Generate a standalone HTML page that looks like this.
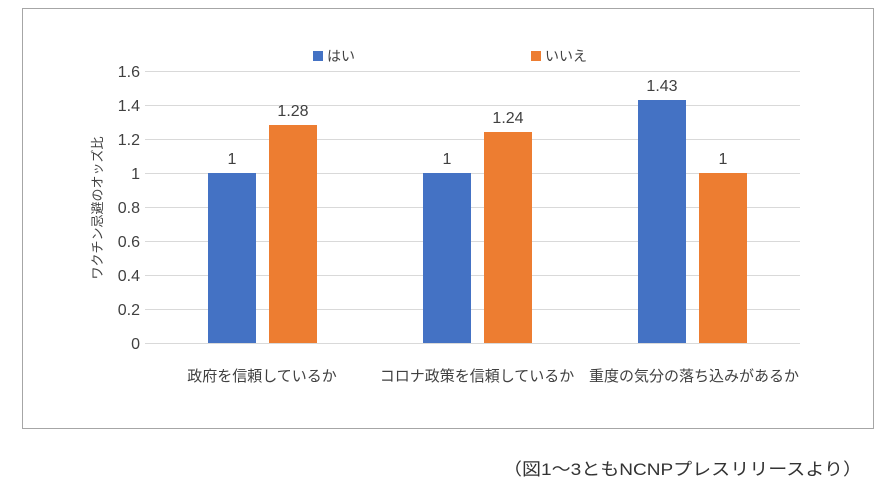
<!DOCTYPE html>
<html><head><meta charset="utf-8"><style>
html,body{margin:0;padding:0;background:#fff;}
svg{display:block;font-family:"Liberation Sans","Noto Sans CJK JP",sans-serif;}
</style></head><body>
<svg width="892" height="491" viewBox="0 0 892 491" xmlns="http://www.w3.org/2000/svg">
<rect x="22.5" y="8.5" width="851" height="420" fill="#fff" stroke="#a6a6a6" stroke-width="1"/>
<g stroke="#d9d9d9" stroke-width="1">
<line x1="145" x2="800" y1="71.5" y2="71.5"/>
<line x1="145" x2="800" y1="105.5" y2="105.5"/>
<line x1="145" x2="800" y1="139.5" y2="139.5"/>
<line x1="145" x2="800" y1="173.5" y2="173.5"/>
<line x1="145" x2="800" y1="207.5" y2="207.5"/>
<line x1="145" x2="800" y1="241.5" y2="241.5"/>
<line x1="145" x2="800" y1="275.5" y2="275.5"/>
<line x1="145" x2="800" y1="309.5" y2="309.5"/>
<line x1="145" x2="800" y1="343.5" y2="343.5"/>
</g>
<g font-size="16" fill="#404040" text-anchor="end">
<text x="140" y="77">1.6</text><text x="140" y="111">1.4</text><text x="140" y="145">1.2</text>
<text x="140" y="179">1</text><text x="140" y="213">0.8</text><text x="140" y="247">0.6</text>
<text x="140" y="281">0.4</text><text x="140" y="315">0.2</text><text x="140" y="349">0</text>
</g>
<text transform="translate(102,208) rotate(-90)" font-size="13" fill="#404040" text-anchor="middle">ワクチン忌避のオッズ比</text>
<rect x="208" y="173" width="48" height="170" fill="#4472C4"/>
<rect x="269" y="125" width="48" height="218" fill="#ED7D31"/>
<rect x="423" y="173" width="48" height="170" fill="#4472C4"/>
<rect x="484" y="132" width="48" height="211" fill="#ED7D31"/>
<rect x="638" y="100" width="48" height="243" fill="#4472C4"/>
<rect x="699" y="173" width="48" height="170" fill="#ED7D31"/>
<g font-size="16" fill="#404040" text-anchor="middle">
<text x="232" y="164">1</text><text x="293" y="116">1.28</text>
<text x="447" y="164">1</text><text x="508" y="123">1.24</text>
<text x="662" y="91">1.43</text><text x="723" y="164">1</text>
</g>
<g font-size="15" fill="#404040" text-anchor="middle">
<text x="262" y="381">政府を信頼しているか</text>
<text x="477" y="381">コロナ政策を信頼しているか</text>
<text x="694" y="381">重度の気分の落ち込みがあるか</text>
</g>
<rect x="313" y="51" width="10" height="10" fill="#4472C4"/>
<text x="327" y="61" font-size="14" fill="#404040">はい</text>
<rect x="531" y="51" width="10" height="10" fill="#ED7D31"/>
<text x="545" y="61" font-size="14" fill="#404040">いいえ</text>
<text x="503" y="475" font-size="17" fill="#333" textLength="359" lengthAdjust="spacingAndGlyphs">（図1～3ともNCNPプレスリリースより）</text>
</svg>
</body></html>
